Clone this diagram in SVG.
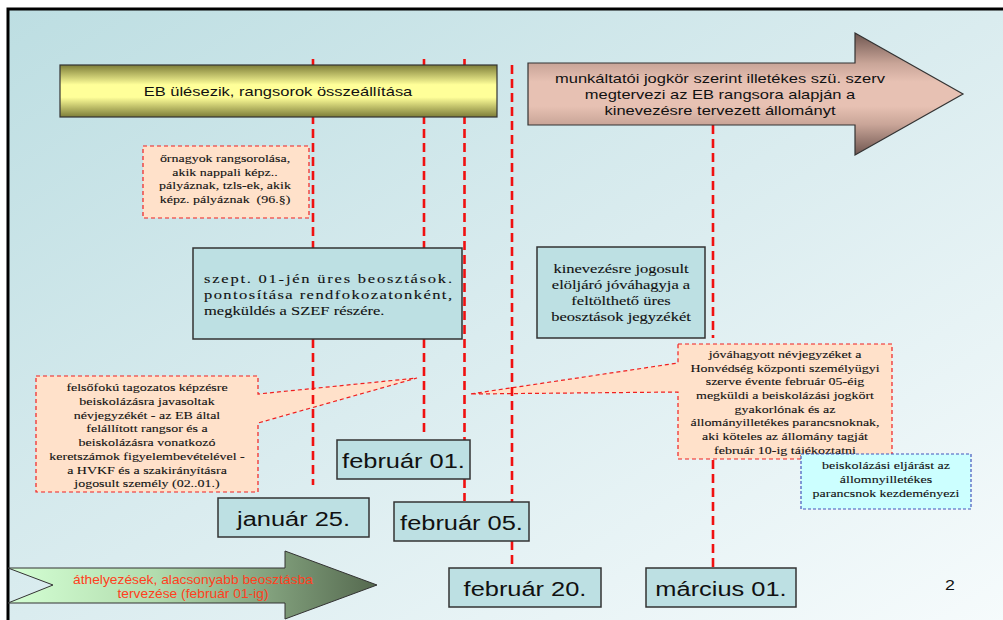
<svg xmlns="http://www.w3.org/2000/svg" width="1003" height="620" viewBox="0 0 1003 620">
<defs>
  <linearGradient id="bg" x1="0" y1="0" x2="1" y2="1">
    <stop offset="0" stop-color="#bddee2"/>
    <stop offset="0.5" stop-color="#daecef"/>
    <stop offset="1" stop-color="#f6fbfc"/>
  </linearGradient>
  <linearGradient id="yel" x1="0" y1="0" x2="0" y2="1">
    <stop offset="0" stop-color="#7d7d38"/>
    <stop offset="0.38" stop-color="#ffff99"/>
    <stop offset="0.62" stop-color="#ffff99"/>
    <stop offset="1" stop-color="#7d7d38"/>
  </linearGradient>
  <linearGradient id="pink" x1="0" y1="0" x2="0" y2="1">
    <stop offset="0" stop-color="#6f5650"/>
    <stop offset="0.25" stop-color="#c9a598"/>
    <stop offset="0.4" stop-color="#e7c1b3"/>
    <stop offset="0.6" stop-color="#e7c1b3"/>
    <stop offset="0.75" stop-color="#c9a598"/>
    <stop offset="1" stop-color="#6f5650"/>
  </linearGradient>
  <linearGradient id="green" x1="0" y1="0" x2="1" y2="0">
    <stop offset="0" stop-color="#d4ffd4"/>
    <stop offset="0.4" stop-color="#b2dcae"/>
    <stop offset="1" stop-color="#55694f"/>
  </linearGradient>
</defs>
<style>
  .dash{stroke:#f01010;stroke-width:2.6;stroke-dasharray:9 5;fill:none}
  .box{fill:#bde0e3;stroke:#333;stroke-width:1.5}
  .call{fill:#ffe1ca;stroke:#f02020;stroke-width:1.2;stroke-dasharray:4 3}
  .callb{fill:#ccffff;stroke:#4455bb;stroke-width:1.2;stroke-dasharray:3 2}
  .sans{font-family:"Liberation Sans",Arial,sans-serif;fill:#111}
  .serif{font-family:"Liberation Serif","Times New Roman",serif;fill:#111;stroke:#111;stroke-width:0.1}
  .date{font-family:"Liberation Sans",Arial,sans-serif;fill:#111;font-size:20px;text-anchor:middle}
  .s11{font-size:11px;text-anchor:middle}
</style>

<rect x="0" y="0" width="1003" height="620" fill="#ffffff"/>
<rect x="8" y="9" width="1000" height="615" fill="url(#bg)"/>
<path d="M8,620 V9 H1003" fill="none" stroke="#000" stroke-width="3"/>

<g id="callout-ornagyok">
  <rect class="call" x="143" y="146" width="166" height="72"/>
  <g transform="translate(225,0) scale(1.27,1)">
    <text class="serif s11" x="0" y="162">őrnagyok rangsorolása,</text>
    <text class="serif s11" x="0" y="176">akik nappali képz..</text>
    <text class="serif s11" x="0" y="189.5">pályáznak, tzls-ek, akik</text>
    <text class="serif s11" x="0" y="203" style="white-space:pre">képz. pályáznak  (96.§)</text>
  </g>
</g>

<g id="callout-felsofoku">
  <path class="call" d="M36,376 H258 V394 L417,378 L258,423 V492 H36 Z"/>
  <g transform="translate(147,0) scale(1.27,1)">
    <text class="serif s11" x="0" y="391">felsőfokú tagozatos képzésre</text>
    <text class="serif s11" x="0" y="405">beiskolázásra javasoltak</text>
    <text class="serif s11" x="0" y="419">névjegyzékét - az EB által</text>
    <text class="serif s11" x="0" y="432.5">felállított rangsor és a</text>
    <text class="serif s11" x="0" y="446">beiskolázásra vonatkozó</text>
    <text class="serif s11" x="0" y="460">keretszámok figyelembevételével -</text>
    <text class="serif s11" x="0" y="474">a HVKF és a szakirányításra</text>
    <text class="serif s11" x="0" y="487.5">jogosult személy (02..01.)</text>
  </g>
</g>

<g id="callout-jovahagyott">
  <path class="call" d="M678,344 H892 V459 H678 V392 L470,394 L678,363 Z"/>
  <g transform="translate(785,0) scale(1.27,1)">
    <text class="serif s11" x="0" y="358">jóváhagyott névjegyzéket a</text>
    <text class="serif s11" x="0" y="371.7">Honvédség központi személyügyi</text>
    <text class="serif s11" x="0" y="385.4">szerve évente február 05-éig</text>
    <text class="serif s11" x="0" y="399.1">megküldi a beiskolázási jogkört</text>
    <text class="serif s11" x="0" y="412.8">gyakorlónak és az</text>
    <text class="serif s11" x="0" y="426.5">állományilletékes parancsnoknak,</text>
    <text class="serif s11" x="0" y="440.2">aki köteles az állomány tagját</text>
    <text class="serif s11" x="0" y="454">február 10-ig tájékoztatni</text>
  </g>
</g>

<g id="connectors">
  <line class="dash" x1="313" y1="59" x2="313" y2="485"/>
  <line class="dash" x1="424" y1="59" x2="424" y2="434"/>
  <line class="dash" x1="464.5" y1="59" x2="464.5" y2="501"/>
  <line class="dash" x1="512" y1="65" x2="512" y2="568"/>
  <line class="dash" x1="713" y1="125" x2="713" y2="338"/>
  <line class="dash" x1="713" y1="460" x2="713" y2="568"/>
</g>

<g id="node-eb">
  <rect x="60" y="65" width="437" height="52" fill="url(#yel)" stroke="#333" stroke-width="1.2"/>
  <g transform="translate(278,0) scale(1.27,1)">
    <text class="sans" font-size="13" text-anchor="middle" x="0" y="96">EB ülésezik, rangsorok összeállítása</text>
  </g>
</g>

<g id="node-munkaltatoi">
  <path d="M528,63 H855 V33 L963,94 L855,155 V125 H528 Z" fill="url(#pink)" stroke="#333" stroke-width="1.2"/>
  <g transform="translate(720,0) scale(1.27,1)">
    <text class="sans" font-size="13" text-anchor="middle" x="0" y="83">munkáltatói jogkör szerint illetékes szü. szerv</text>
    <text class="sans" font-size="13" text-anchor="middle" x="0" y="99">megtervezi az EB rangsora alapján a</text>
    <text class="sans" font-size="13" text-anchor="middle" x="0" y="115">kinevezésre tervezett állományt</text>
  </g>
</g>

<g id="node-szept">
  <rect class="box" x="193" y="248" width="269" height="91"/>
  <g transform="translate(204,0) scale(1.27,1)">
    <text class="serif" font-size="13" x="0" y="283" textLength="195.3" lengthAdjust="spacing">szept. 01-jén üres beosztások.</text>
    <text class="serif" font-size="13" x="0" y="299" textLength="195.3" lengthAdjust="spacing">pontosítása rendfokozatonként,</text>
    <text class="serif" font-size="13" x="0" y="315">megküldés a SZEF részére.</text>
  </g>
</g>

<g id="node-kinevezesre">
  <rect class="box" x="537" y="247" width="168" height="91"/>
  <g transform="translate(621,0) scale(1.27,1)">
    <text class="serif" font-size="13" text-anchor="middle" x="0" y="273">kinevezésre jogosult</text>
    <text class="serif" font-size="13" text-anchor="middle" x="0" y="289">elöljáró jóváhagyja a</text>
    <text class="serif" font-size="13" text-anchor="middle" x="0" y="305">feltölthető üres</text>
    <text class="serif" font-size="13" text-anchor="middle" x="0" y="321">beosztások jegyzékét</text>
  </g>
</g>

<g id="node-beiskolazasi">
  <rect class="callb" x="801" y="454" width="170" height="55"/>
  <g transform="translate(886,0) scale(1.27,1)">
    <text class="serif s11" x="0" y="469">beiskolázási eljárást az</text>
    <text class="serif s11" x="0" y="483">állomnyilletékes</text>
    <text class="serif s11" x="0" y="497">parancsnok kezdeményezi</text>
  </g>
</g>

<g id="date-feb01">
  <rect class="box" x="337" y="440" width="133" height="39"/>
  <g transform="translate(403.5,0) scale(1.27,1)"><text class="date" x="0" y="468">február 01.</text></g>
</g>
<g id="date-jan25">
  <rect class="box" x="218" y="498" width="151" height="39"/>
  <g transform="translate(293.5,0) scale(1.27,1)"><text class="date" x="0" y="526.5">január 25.</text></g>
</g>
<g id="date-feb05">
  <rect class="box" x="394" y="502" width="135" height="39"/>
  <g transform="translate(461.5,0) scale(1.27,1)"><text class="date" x="0" y="530">február 05.</text></g>
</g>
<g id="date-feb20">
  <rect class="box" x="449" y="568" width="152" height="39"/>
  <g transform="translate(525,0) scale(1.27,1)"><text class="date" x="0" y="596">február 20.</text></g>
</g>
<g id="date-marc01">
  <rect class="box" x="646" y="568" width="150" height="39"/>
  <g transform="translate(721,0) scale(1.27,1)"><text class="date" x="0" y="596">március 01.</text></g>
</g>

<g id="node-athelyezesek">
  <path d="M8,568 H285 V551 L377,585 L285,619 V603 H8 L53,585 Z" fill="url(#green)" stroke="#333" stroke-width="1"/>
  <g transform="translate(193,0) scale(1.15,1)">
    <text font-family="'Liberation Sans', Arial, sans-serif" font-size="12" fill="#ff4020" text-anchor="middle" x="0" y="584">áthelyezések, alacsonyabb beosztásba</text>
    <text font-family="'Liberation Sans', Arial, sans-serif" font-size="12" fill="#ff4020" text-anchor="middle" x="0" y="598">tervezése (február 01-ig)</text>
  </g>
</g>

<g id="page-number">
  <g transform="translate(950,0) scale(1.27,1)"><text class="sans" font-size="14" text-anchor="middle" x="0" y="590">2</text></g>
</g>
</svg>
